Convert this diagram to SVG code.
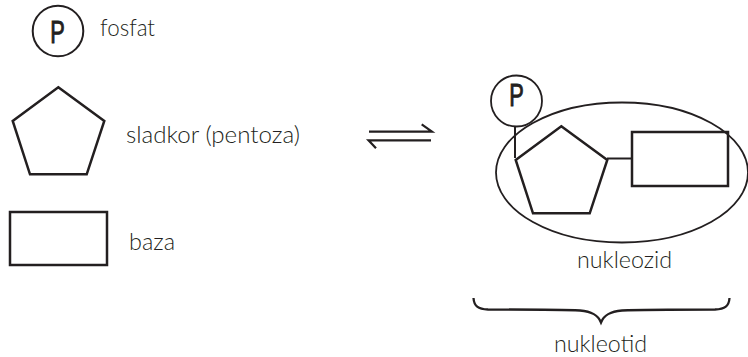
<svg xmlns="http://www.w3.org/2000/svg" width="748" height="357" viewBox="0 0 748 357">
  <style>
    .shape { fill: none; stroke: #231f20; stroke-width: 2.5; stroke-linejoin: miter; }
    .thin { fill: none; stroke: #231f20; stroke-width: 1.8; }
    .label { font-family: Lato, "Liberation Sans", Arial, sans-serif; font-weight: 300; font-size: 23px; fill: #231f20; }
    .pmark { font-family: "Liberation Sans", Arial, sans-serif; font-weight: normal; font-size: 32px; fill: #231f20; stroke: #231f20; stroke-width: 1; text-anchor: middle; }
  </style>
  <defs>
    <polygon id="pentagon" points="58.3,87.3 104.3,121 86.7,174.3 30,174.3 12.7,121"/>
  </defs>
  <rect width="748" height="357" fill="#ffffff"/>

  <!-- legend: phosphate -->
  <g id="legend-phosphate">
    <circle cx="58" cy="31" r="25.3" class="shape" style="stroke-width:2"/>
    <text class="pmark" transform="translate(57.5,42.5) scale(0.68,1)">P</text>
    <text class="label" x="100" y="36" textLength="55" lengthAdjust="spacingAndGlyphs">fosfat</text>
  </g>

  <!-- legend: sugar -->
  <g id="legend-sugar">
    <use href="#pentagon" class="shape"/>
    <text class="label" x="126" y="143" textLength="174" lengthAdjust="spacingAndGlyphs">sladkor (pentoza)</text>
  </g>

  <!-- legend: base -->
  <g id="legend-base">
    <rect x="10" y="212" width="97" height="53" class="shape"/>
    <text class="label" x="129" y="250" textLength="46" lengthAdjust="spacingAndGlyphs">baza</text>
  </g>

  <!-- equilibrium arrows -->
  <g id="equilibrium" fill="none" stroke="#231f20" stroke-width="2.2">
    <path d="M369,131.7 H432 L421.7,124.3"/>
    <path d="M431,140.3 H368.5 L376,148.3"/>
  </g>

  <!-- nucleoside outline -->
  <g id="nucleoside">
    <ellipse cx="622" cy="172.5" rx="126" ry="70" class="thin"/>
    <text class="label" x="577" y="268" textLength="95" lengthAdjust="spacingAndGlyphs">nukleozid</text>
  </g>

  <!-- nucleotide parts -->
  <g id="phosphate">
    <circle cx="516.5" cy="101" r="25.5" class="thin"/>
    <text class="pmark" transform="translate(516.5,105.5) scale(0.68,1)">P</text>
  </g>
  <g id="sugar">
    <use href="#pentagon" class="shape" transform="translate(503,39)"/>
  </g>
  <g id="base">
    <rect x="632" y="132" width="96" height="54" class="shape"/>
  </g>

  <!-- bonds -->
  <g id="connectors" stroke="#231f20" stroke-width="2" fill="none">
    <line x1="515" y1="126.5" x2="515" y2="158"/>
    <line x1="607" y1="158.5" x2="632" y2="158.5"/>
  </g>

  <!-- brace spanning the nucleotide -->
  <g id="nucleotide">
    <path d="M473.5,298 C474,306 478,309 488,309.5 C530,309.5 560,309.5 580,310.5 C592,311.5 598,315 601,322.5 C604,315 610,311.5 622,310.5 C642,309.5 672,309.5 715,309.5 C725,309 729,306 729.5,298" fill="none" stroke="#231f20" stroke-width="2.3"/>
    <text class="label" x="554" y="352" textLength="93" lengthAdjust="spacingAndGlyphs">nukleotid</text>
  </g>
</svg>
